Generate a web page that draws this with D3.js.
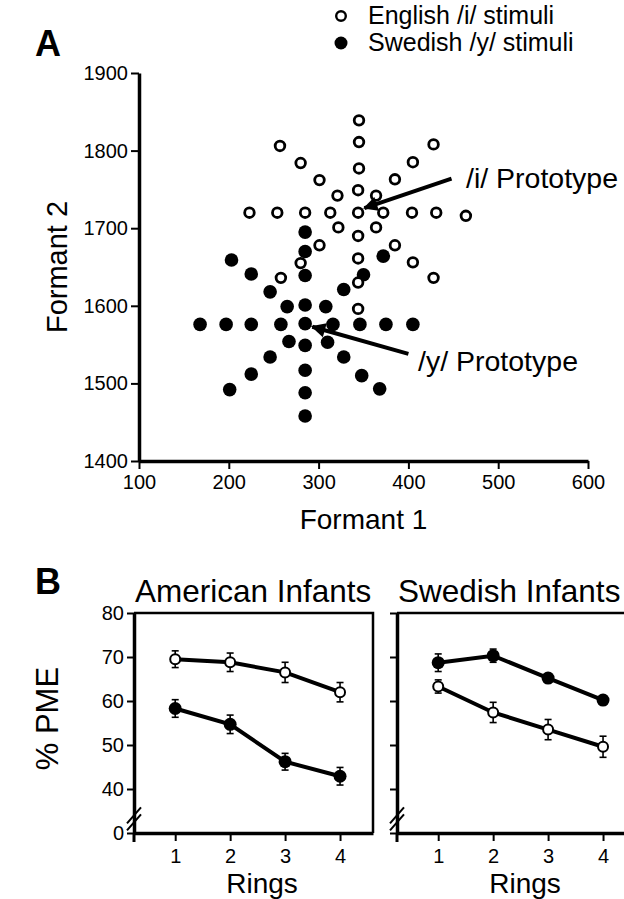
<!DOCTYPE html>
<html>
<head>
<meta charset="utf-8">
<script src="https://cdn.jsdelivr.net/npm/d3@7"></script>
<style>
body { margin: 0; background: #fff; }
svg { display: block; font-family: "Liberation Sans", Arial, Helvetica, sans-serif; }
.axis path, .axis line { stroke: #000; }
.axis text { font-size: 20px; fill: #000; }
</style>
</head>
<body>
<script>
// panel A: formant values
const englishF1 = [344, 345, 345, 345, 344, 344, 344, 344, 344,
    223, 254, 285, 313, 372, 404, 431, 464,
    321, 301, 280, 257, 364, 385, 405, 428,
    322, 301, 280, 258, 364, 385, 405, 428];
const englishF2 = [1720, 1839, 1811, 1777, 1749, 1690, 1661, 1630, 1596,
    1720, 1720, 1720, 1720, 1720, 1720, 1720, 1716,
    1742, 1762, 1784, 1806, 1742, 1763, 1785, 1808,
    1701, 1678, 1655, 1636, 1701, 1678, 1656, 1636];
const swedishF1 = [285, 285, 285, 285, 285, 285, 285, 285, 285,
    168, 197, 225, 258, 316, 346, 375, 405,
    265, 246, 225, 203, 308, 328, 350, 372,
    267, 246, 225, 201, 310, 328, 348, 368];
const swedishF2 = [1577, 1695, 1670, 1639, 1601, 1549, 1517, 1488, 1458,
    1576, 1576, 1576, 1576, 1576, 1576, 1576, 1576,
    1599, 1618, 1641, 1659, 1599, 1621, 1640, 1664,
    1554, 1534, 1512, 1492, 1553, 1534, 1510, 1493];
const f1Ticks = [100, 200, 300, 400, 500, 600];
const f2Ticks = [1400, 1500, 1600, 1700, 1800, 1900];

// panel B: % PME per ring
const rings = [1, 2, 3, 4];
const pmeTicks = [30, 40, 50, 60, 70, 80];   // 30 sits at the axis break and is labelled 0
const americanEnglish = [69.5, 68.8, 66.5, 62.0];
const americanEnglishErr = [1.9, 2.1, 2.3, 2.2];
const americanSwedish = [58.3, 54.7, 46.2, 42.9];
const americanSwedishErr = [2.0, 2.1, 1.9, 2.0];
const swedishSwedish = [68.7, 70.3, 65.2, 60.2];
const swedishSwedishErr = [2.0, 1.5, 1.0, 1.0];
const swedishEnglish = [63.3, 57.4, 53.5, 49.6];
const swedishEnglishErr = [1.5, 2.3, 2.3, 2.4];

const width = 624, height = 899;
const svg = d3.select("body").append("svg")
    .attr("width", width)
    .attr("height", height);

function styleAxis(g, w) {
    g.classed("axis", true);
    g.select(".domain").attr("stroke-width", w);
    g.selectAll(".tick line").attr("stroke-width", 2);
}

// ---------- panel A ----------
let xA = d3.scaleLinear().domain([100, 600]).range([139, 588]);
let yA = d3.scaleLinear().domain([1400, 1900]).range([461, 73]);

svg.append("text").attr("x", 35).attr("y", 56)
    .attr("font-size", 36).attr("font-weight", "bold").text("A");

svg.append("g")
    .attr("transform", `translate(0,${yA(1400)})`)
    .call(d3.axisBottom(xA).tickValues(f1Ticks).tickFormat(d3.format("d"))
        .tickSize(8).tickSizeOuter(0).tickPadding(6))
    .call(g => styleAxis(g, 3.5));
svg.append("g")
    .attr("transform", `translate(${xA(100)},0)`)
    .call(d3.axisLeft(yA).tickValues(f2Ticks).tickFormat(d3.format("d"))
        .tickSize(8).tickSizeOuter(0).tickPadding(3))
    .call(g => styleAxis(g, 3.5));

svg.append("text")
    .attr("x", xA(350)).attr("y", 529)
    .attr("text-anchor", "middle").attr("font-size", 28)
    .text("Formant 1");
svg.append("text")
    .attr("transform", `translate(67,${yA(1650)}) rotate(-90)`)
    .attr("text-anchor", "middle").attr("font-size", 29)
    .text("Formant 2");

let english = englishF1.map((v, i) => [v, englishF2[i]]);
let swedish = swedishF1.map((v, i) => [v, swedishF2[i]]);

svg.append("g").selectAll("circle")
    .data(swedish).enter().append("circle")
    .attr("cx", d => xA(d[0])).attr("cy", d => yA(d[1]))
    .attr("r", 6.8).attr("fill", "#000");
svg.append("g").selectAll("circle")
    .data(english).enter().append("circle")
    .attr("cx", d => xA(d[0])).attr("cy", d => yA(d[1]))
    .attr("r", 4.8).attr("fill", "#fff")
    .attr("stroke", "#000").attr("stroke-width", 2.8);

// prototype arrows
svg.append("defs").append("marker")
    .attr("id", "head")
    .attr("viewBox", "0 0 10 10")
    .attr("refX", 9).attr("refY", 5)
    .attr("markerWidth", 4.5).attr("markerHeight", 3.6)
    .attr("markerUnits", "strokeWidth")
    .attr("orient", "auto")
    .append("path").attr("d", "M0,0L10,5L0,10z").attr("fill", "#000");

const arrows = [
    { from: [448, 1764], to: [351, 1726], label: "/i/ Prototype", at: [466, 188] },
    { from: [400, 1538], to: [293, 1573], label: "/y/ Prototype", at: [418, 371] }
];
arrows.forEach(a => {
    svg.append("line")
        .attr("x1", xA(a.from[0])).attr("y1", yA(a.from[1]))
        .attr("x2", xA(a.to[0])).attr("y2", yA(a.to[1]))
        .attr("stroke", "#000").attr("stroke-width", 4)
        .attr("marker-end", "url(#head)");
    svg.append("text")
        .attr("x", a.at[0]).attr("y", a.at[1])
        .attr("font-size", 28.5).text(a.label);
});

// legend
let legend = svg.append("g").attr("transform", "translate(341,0)");
legend.append("circle").attr("cx", 0).attr("cy", 16).attr("r", 4.8)
    .attr("fill", "#fff").attr("stroke", "#000").attr("stroke-width", 2.4);
legend.append("text").attr("x", 27).attr("y", 24).attr("font-size", 25)
    .text("English /i/ stimuli");
legend.append("circle").attr("cx", 0).attr("cy", 43).attr("r", 6.5)
    .attr("fill", "#000");
legend.append("text").attr("x", 27).attr("y", 51).attr("font-size", 25)
    .text("Swedish /y/ stimuli");

// ---------- panel B ----------
svg.append("text").attr("x", 35).attr("y", 594)
    .attr("font-size", 36).attr("font-weight", "bold").text("B");

let yB = d3.scaleLinear().domain([30, 80]).range([833, 613]);

svg.append("text")
    .attr("transform", `translate(58,${yB(56)}) rotate(-90)`)
    .attr("text-anchor", "middle").attr("font-size", 31)
    .text("% PME");

function drawPanel(left, right, title, series, showLabels, frame) {
    let x = d3.scaleLinear().domain([0.25, 4.6]).range([left, right]);
    let g = svg.append("g");

    g.append("text").attr("x", left + 1).attr("y", 602)
        .attr("font-size", 31.5).text(title);

    if (frame) {
        g.append("path")
            .attr("d", `M${left},${yB(80)}H${right}V${yB(30)}`)
            .attr("fill", "none").attr("stroke", "#000").attr("stroke-width", 2.5);
    } else {
        g.append("line")
            .attr("x1", left).attr("x2", right)
            .attr("y1", yB(80)).attr("y2", yB(80))
            .attr("stroke", "#000").attr("stroke-width", 2.5);
    }

    g.append("g")
        .attr("transform", `translate(0,${yB(30)})`)
        .call(d3.axisBottom(x).tickValues(rings).tickFormat(d3.format("d"))
            .tickSize(8).tickSizeOuter(0).tickPadding(8))
        .call(ax => styleAxis(ax, 3.5));
    g.append("g")
        .attr("transform", `translate(${left},0)`)
        .call(d3.axisLeft(yB).tickValues(pmeTicks).tickSize(7).tickSizeOuter(0).tickPadding(3)
            .tickFormat(d => showLabels ? (d === 30 ? "0" : d) : ""))
        .call(ax => styleAxis(ax, 3.5));
    // axis runs a little below the baseline
    g.append("line")
        .attr("x1", left).attr("x2", left)
        .attr("y1", yB(30)).attr("y2", yB(30) + 9)
        .attr("stroke", "#000").attr("stroke-width", 3);

    // break marks
    [0, 7].forEach(off => {
        g.append("line")
            .attr("x1", left - 7).attr("y1", yB(34) + 8 + off)
            .attr("x2", left + 7).attr("y2", yB(34) - 8 + off)
            .attr("stroke", "#000").attr("stroke-width", 2);
    });

    g.append("text")
        .attr("x", x(2.58)).attr("y", 893)
        .attr("text-anchor", "middle").attr("font-size", 28)
        .text("Rings");

    let line = d3.line().x((d, i) => x(rings[i])).y(d => yB(d));
    series.forEach(s => {
        g.append("path").attr("d", line(s.values))
            .attr("fill", "none").attr("stroke", "#000").attr("stroke-width", 4);
        s.values.forEach((v, i) => {
            let cx = x(rings[i]);
            g.append("line")
                .attr("x1", cx).attr("x2", cx)
                .attr("y1", yB(v - s.err[i])).attr("y2", yB(v + s.err[i]))
                .attr("stroke", "#000").attr("stroke-width", 1.6);
            [v - s.err[i], v + s.err[i]].forEach(e => {
                g.append("line")
                    .attr("x1", cx - 3.5).attr("x2", cx + 3.5)
                    .attr("y1", yB(e)).attr("y2", yB(e))
                    .attr("stroke", "#000").attr("stroke-width", 1.6);
            });
        });
        g.append("g").selectAll("circle")
            .data(s.values).enter().append("circle")
            .attr("cx", (d, i) => x(rings[i])).attr("cy", d => yB(d))
            .attr("r", s.filled ? 6.5 : 5)
            .attr("fill", s.filled ? "#000" : "#fff")
            .attr("stroke", "#000").attr("stroke-width", s.filled ? 0 : 2);
    });
}

drawPanel(134, 373, "American Infants", [
    { values: americanEnglish, err: americanEnglishErr, filled: false },
    { values: americanSwedish, err: americanSwedishErr, filled: true }
], true, true);

drawPanel(397, 636, "Swedish Infants", [
    { values: swedishSwedish, err: swedishSwedishErr, filled: true },
    { values: swedishEnglish, err: swedishEnglishErr, filled: false }
], false, false);
</script>
</body>
</html>
